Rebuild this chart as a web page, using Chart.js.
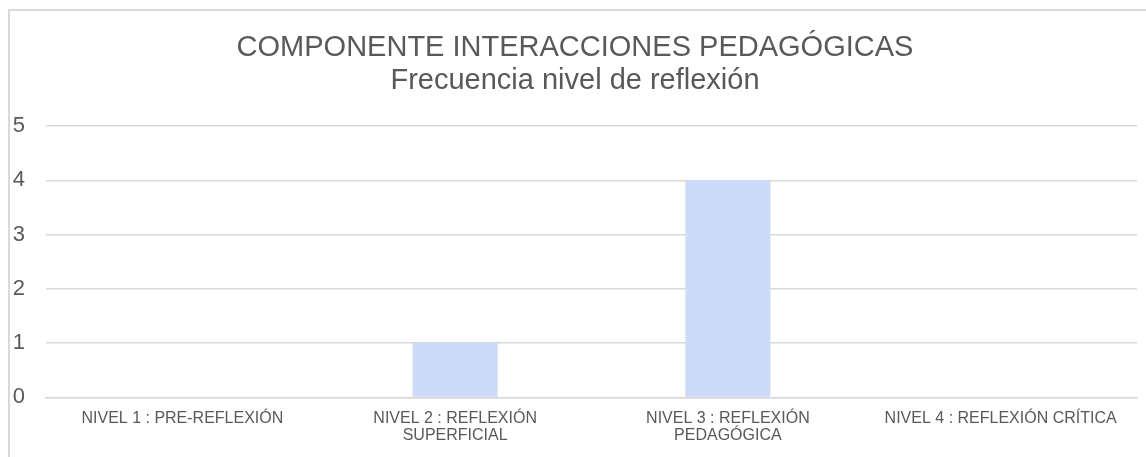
<!DOCTYPE html>
<html>
<head>
<meta charset="utf-8">
<script src="https://cdn.jsdelivr.net/npm/chart.js@4/dist/chart.umd.min.js"></script>
<style>
  html, body { margin: 0; padding: 0; background: #fff; overflow: hidden; }
  #frame { position: absolute; left: 8px; top: 9px; width: 1200px; height: 500px;
           border-left: 2px solid #d9d9d9; border-top: 2px solid #d9d9d9; }
  #wrap { position: absolute; left: 0; top: 0; width: 1146px; height: 457px; }
</style>
</head>
<body>
<div id="frame"></div>
<div id="wrap"><canvas id="chart"></canvas></div>
<script>
const categories = [
  'NIVEL 1 : PRE-REFLEXIÓN',
  ['NIVEL 2 : REFLEXIÓN', 'SUPERFICIAL'],
  ['NIVEL 3 : REFLEXIÓN', 'PEDAGÓGICA'],
  'NIVEL 4 : REFLEXIÓN CRÍTICA'
];
const frecuencia = [0, 1, 4, 0];
const titleLines = ['COMPONENTE INTERACCIONES PEDAGÓGICAS', 'Frecuencia nivel de reflexión'];

const textColor = '#595959';
const gridColor = '#d9d9d9';

document.addEventListener('DOMContentLoaded', function () {
  const ctx = document.getElementById('chart').getContext('2d');
  new Chart(ctx, {
    type: 'bar',
    data: {
      labels: categories,
      datasets: [{
        label: 'Frecuencia',
        data: frecuencia,
        backgroundColor: 'rgb(204,219,247)',
        borderWidth: 0,
        categoryPercentage: 1,
        barPercentage: 0.312
      }]
    },
    options: {
      responsive: true,
      maintainAspectRatio: false,
      animation: false,
      layout: { padding: { left: 13, right: 9, top: 0, bottom: 0 } },
      plugins: {
        legend: { display: false },
        tooltip: { enabled: false },
        title: {
          display: true,
          text: titleLines,
          color: textColor,
          font: { family: 'Liberation Sans, Arial, sans-serif', size: 29, weight: 'normal', lineHeight: 1.138 },
          padding: { top: 31, bottom: 29 }
        }
      },
      scales: {
        x: {
          grid: { display: false, drawTicks: false },
          border: { display: true, color: gridColor, width: 1.5 },
          ticks: {
            color: textColor,
            padding: 13,
            maxRotation: 0,
            autoSkip: false,
            font: { family: 'Liberation Sans, Arial, sans-serif', size: 16, lineHeight: 1.05 }
          }
        },
        y: {
          min: 0,
          max: 5,
          afterFit: function (scale) { scale.width = 33; },
          grid: { color: gridColor, lineWidth: 1.5, drawTicks: false },
          border: { display: false },
          ticks: {
            stepSize: 1,
            color: textColor,
            padding: 21,
            font: { family: 'Liberation Sans, Arial, sans-serif', size: 22 }
          }
        }
      }
    }
  });
});
</script>
</body>
</html>
